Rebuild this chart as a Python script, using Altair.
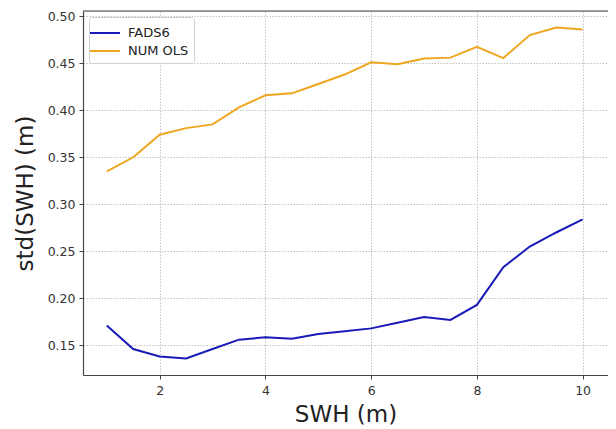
import altair as alt
import pandas as pd

swh = [1.0, 1.5, 2.0, 2.5, 3.0, 3.5, 4.0, 4.5, 5.0, 5.5, 6.0, 6.5, 7.0, 7.5, 8.0, 8.5, 9.0, 9.5, 10.0]
fads6 = [0.171, 0.146, 0.138, 0.136, 0.146, 0.156, 0.1585, 0.157, 0.162, 0.165, 0.168, 0.174, 0.180, 0.177,
         0.193, 0.233, 0.255, 0.270, 0.284]
num_ols = [0.335, 0.350, 0.374, 0.381, 0.385, 0.403, 0.416, 0.418, 0.428, 0.438, 0.451, 0.449, 0.455, 0.456,
           0.4675, 0.4555, 0.480, 0.488, 0.486]
series = ["FADS6", "NUM OLS"]
colors = ["#1a1ab8", "#eea620"]
x_ticks = [2, 4, 6, 8, 10]
y_ticks = [0.15, 0.20, 0.25, 0.30, 0.35, 0.40, 0.45, 0.50]

rows = []
for name, vals in zip(series, [fads6, num_ols]):
    for x, v in zip(swh, vals):
        rows.append({"SWH": x, "std": v, "series": name})
df = pd.DataFrame(rows)

FONT = "DejaVu Sans"
W, H = 525, 364

lines = alt.Chart(df).mark_line(strokeWidth=2, clip=True).encode(
    x=alt.X("SWH:Q", scale=alt.Scale(domain=[0.55, 10.48], nice=False, zero=False),
            axis=alt.Axis(values=x_ticks, title="SWH (m)", format="d",
                          grid=True, gridColor="#c4c4c4", gridDash=[1.5, 1.5], gridWidth=1,
                          domainColor="#444444", domainWidth=1.2,
                          tickColor="#444444", tickSize=4, tickWidth=1,
                          labelFont=FONT, labelFontSize=12.5, labelColor="#333333", labelPadding=5,
                          titleFont=FONT, titleFontSize=23, titleFontWeight="normal",
                          titleColor="#222222", titlePadding=7)),
    y=alt.Y("std:Q", scale=alt.Scale(domain=[0.1184, 0.5056], nice=False, zero=False),
            axis=alt.Axis(values=y_ticks, title="std(SWH) (m)", format=".2f",
                          grid=True, gridColor="#c4c4c4", gridDash=[1.5, 1.5], gridWidth=1,
                          domainColor="#444444", domainWidth=1.2,
                          tickColor="#444444", tickSize=4, tickWidth=1,
                          labelFont=FONT, labelFontSize=12.5, labelColor="#333333", labelPadding=4,
                          titleFont=FONT, titleFontSize=23, titleFontWeight="normal",
                          titleColor="#222222", titlePadding=10)),
    color=alt.Color("series:N", scale=alt.Scale(domain=series, range=colors),
                    legend=alt.Legend(title=None, orient="none", legendX=6, legendY=6,
                                      symbolType="M -1.5 0 L 1.5 0", symbolStrokeWidth=2, symbolSize=400,
                                      labelFont=FONT, labelFontSize=13, labelColor="#222222",
                                      labelOffset=12, rowPadding=0,
                                      strokeColor="#d0d0d0", fillColor="white", cornerRadius=3,
                                      padding=5)),
)

top_border = alt.Chart(pd.DataFrame({"a": [0]})).mark_rule(color="#444444", strokeWidth=1.2).encode(
    x=alt.value(0), x2=alt.value(W), y=alt.value(0)
)

chart = alt.layer(lines, top_border).properties(
    width=W, height=H,
    autosize=alt.AutoSizeParams(type="none"),
    padding={"left": 75, "top": 3, "right": 0, "bottom": 54},
).configure_view(stroke=None).configure(background="white")

chart.save("out.html", embed_options={"renderer": "svg", "actions": False})
